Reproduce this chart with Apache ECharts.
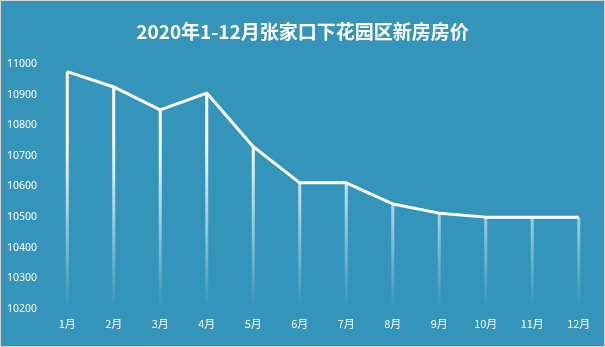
<!DOCTYPE html>
<html><head><meta charset="utf-8">
<script src="https://cdn.jsdelivr.net/npm/echarts@6/dist/echarts.min.js"></script>
<style>
html,body{margin:0;padding:0;background:#d4d4d4;}
#c{position:absolute;left:1px;top:1px;width:603px;height:345px;background:#3494ba;}
</style></head>
<body><div id="c"></div>
<script>
var titleText = '2020年1-12月张家口下花园区新房房价';
var months = ['1月','2月','3月','4月','5月','6月','7月','8月','9月','10月','11月','12月'];
var prices = [10975, 10925, 10850, 10905, 10730, 10612, 10612, 10543, 10513, 10500, 10500, 10500];
var yMin = 10200, yMax = 11000, yStep = 100;

var chart = echarts.init(document.getElementById('c'), null, {renderer:'canvas'});
var grad = new echarts.graphic.LinearGradient(0, 63, 0, 308, [
  {offset:0, color:'rgba(255,255,255,1)'},
  {offset:0.3, color:'rgba(255,255,255,1)'},
  {offset:1, color:'rgba(255,255,255,0)'}
], true);
chart.setOption({
  backgroundColor:'#3494ba',
  animation:false,
  title:{text:titleText,left:'center',top:16,
    textStyle:{color:'#fff',fontSize:19,fontWeight:'bold',fontFamily:'"Noto Sans CJK SC","Noto Sans",sans-serif'}},
  grid:{left:43,right:2,top:63,bottom:37,containLabel:false},
  xAxis:{type:'category',data:months,boundaryGap:true,
    axisLine:{show:false},axisTick:{show:false},
    axisLabel:{color:'#fff',fontSize:11,margin:9,fontFamily:'"Noto Sans CJK SC","Noto Sans",sans-serif'}},
  yAxis:{type:'value',min:yMin,max:yMax,interval:yStep,
    axisLine:{show:false},axisTick:{show:false},splitLine:{show:false},
    axisLabel:{color:'#fff',fontSize:10.5,margin:7,formatter:function(v){return String(v);},
      fontFamily:'"Noto Sans","DejaVu Sans",sans-serif'}},
  series:[
    {type:'bar',data:prices,barWidth:3,itemStyle:{color:grad},silent:true},
    {type:'line',data:prices,symbol:'none',lineStyle:{color:'#fff',width:3},z:5}
  ]
});
</script></body></html>
